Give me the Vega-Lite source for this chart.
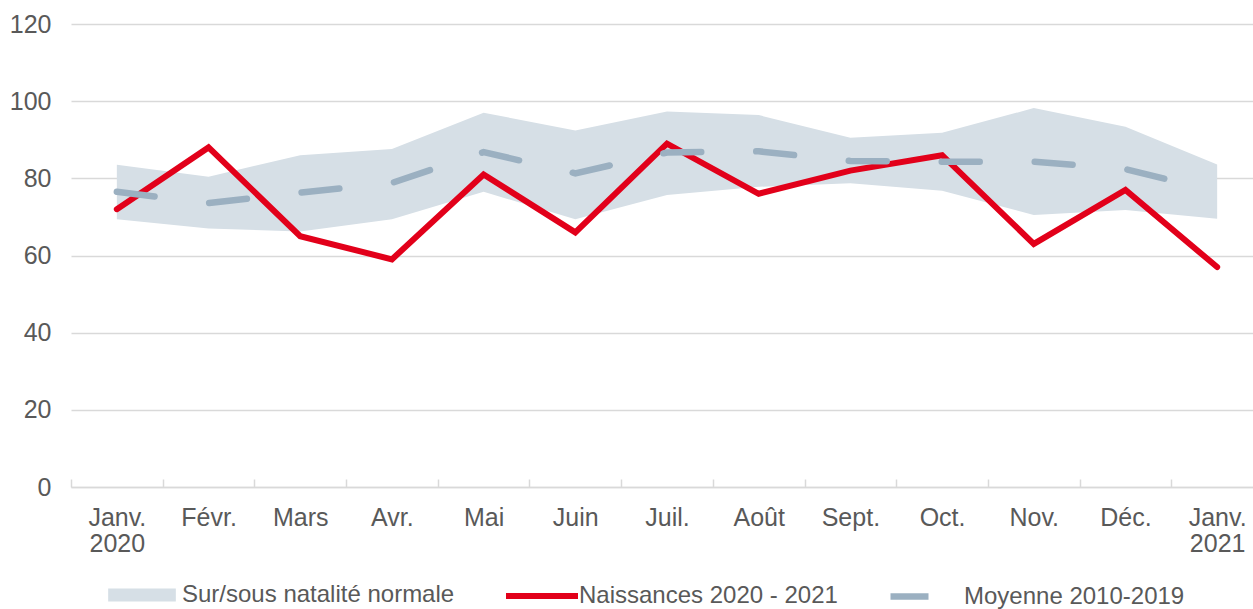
{
  "$schema": "https://vega.github.io/schema/vega-lite/v6.json",
  "width": 1182,
  "height": 463,
  "autosize": {"type": "none"},
  "padding": {"left": 71, "top": 24, "right": 0, "bottom": 122},
  "background": "white",
  "config": {
    "view": {"stroke": null},
    "font": "Liberation Sans",
    "legend": {
      "orient": "none",
      "direction": "horizontal",
      "labelFontSize": 24,
      "labelColor": "#595959",
      "labelFont": "Liberation Sans",
      "labelLimit": 0,
      "labelOffset": -2,
      "symbolSize": 5184,
      "symbolOpacity": 1,
      "legendY": 533
    }
  },
  "data": {
    "values": [
      {"mois": "Janv. 2020", "min": 69.4, "max": 83.5, "naissances": 72, "moyenne": 76.5},
      {"mois": "Févr.", "min": 67.0, "max": 80.4, "naissances": 88, "moyenne": 73.6},
      {"mois": "Mars", "min": 66.2, "max": 86.0, "naissances": 65, "moyenne": 76.3},
      {"mois": "Avr.", "min": 69.4, "max": 87.6, "naissances": 59, "moyenne": 78.8},
      {"mois": "Mai", "min": 76.5, "max": 97.0, "naissances": 81, "moyenne": 86.8},
      {"mois": "Juin", "min": 69.4, "max": 92.4, "naissances": 66, "moyenne": 81.3},
      {"mois": "Juil.", "min": 75.7, "max": 97.3, "naissances": 89, "moyenne": 86.7},
      {"mois": "Août", "min": 77.8, "max": 96.4, "naissances": 76, "moyenne": 87.0},
      {"mois": "Sept.", "min": 78.7, "max": 90.5, "naissances": 82, "moyenne": 84.5},
      {"mois": "Oct.", "min": 76.8, "max": 91.8, "naissances": 86, "moyenne": 84.3},
      {"mois": "Nov.", "min": 70.5, "max": 98.2, "naissances": 63, "moyenne": 84.3},
      {"mois": "Déc.", "min": 71.8, "max": 93.4, "naissances": 77, "moyenne": 82.4},
      {"mois": "Janv. 2021", "min": 69.5, "max": 83.6, "naissances": 57, "moyenne": 76.5}
    ]
  },
  "encoding": {
    "x": {
      "field": "mois",
      "type": "ordinal",
      "sort": null,
      "bandPosition": 0.5,
      "scale": {"type": "band", "paddingInner": 0, "paddingOuter": 0, "range": [0, {"expr": "width + 10"}]},
      "axis": {
        "title": null,
        "labelAngle": 0,
        "labelExpr": "split(datum.label, ' ')",
        "labelFontSize": 25,
        "labelColor": "#595959",
        "labelLineHeight": 26,
        "labelPadding": 26,
        "tickBand": "extent",
        "tickSize": -8,
        "tickColor": "#d9d9d9",
        "tickWidth": 1.5,
        "domainColor": "#d9d9d9",
        "domainWidth": 1.5,
        "grid": false
      }
    }
  },
  "layer": [
    {
      "mark": {"type": "area", "opacity": 1},
      "encoding": {
        "y": {
          "field": "min",
          "type": "quantitative",
          "scale": {"domain": [0, 120], "nice": false},
          "axis": {
            "title": null,
            "values": [0, 20, 40, 60, 80, 100, 120],
            "domain": false,
            "ticks": false,
            "labelPadding": 20,
            "labelFontSize": 25,
            "labelColor": "#595959",
            "gridColor": "#d9d9d9",
            "gridWidth": 1.5
          }
        },
        "y2": {"field": "max"},
        "fill": {
          "datum": "Sur/sous natalité normale",
          "type": "nominal",
          "scale": {"range": ["#d6dfe6"]},
          "legend": {
            "title": null,
            "legendX": 35,
            "legendY": 535,
            "labelOffset": 4,
            "symbolType": "M-0.94,-0.18H0.94V0.18H-0.94Z",
            "symbolStrokeWidth": 0
          }
        }
      }
    },
    {
      "mark": {"type": "line", "strokeWidth": 6, "strokeCap": "round", "strokeJoin": "miter"},
      "encoding": {
        "y": {"field": "naissances", "type": "quantitative"},
        "stroke": {
          "datum": "Naissances 2020 - 2021",
          "type": "nominal",
          "scale": {"range": ["#e2001a"]},
          "legend": {
            "title": null,
            "legendX": 432,
            "symbolType": "stroke",
            "symbolStrokeWidth": 6
          }
        }
      }
    },
    {
      "mark": {"type": "line", "color": "#9bb0c1", "strokeWidth": 6.5, "strokeCap": "round"},
      "encoding": {
        "y": {"field": "moyenne", "type": "quantitative"},
        "strokeDash": {
          "datum": "Moyenne 2010-2019",
          "type": "nominal",
          "scale": {"range": [[38, 55]]},
          "legend": {
            "title": null,
            "legendX": 816,
            "symbolType": "stroke",
            "symbolStrokeWidth": 6.5,
            "symbolStrokeColor": "#9bb0c1"
          }
        }
      }
    }
  ]
}
